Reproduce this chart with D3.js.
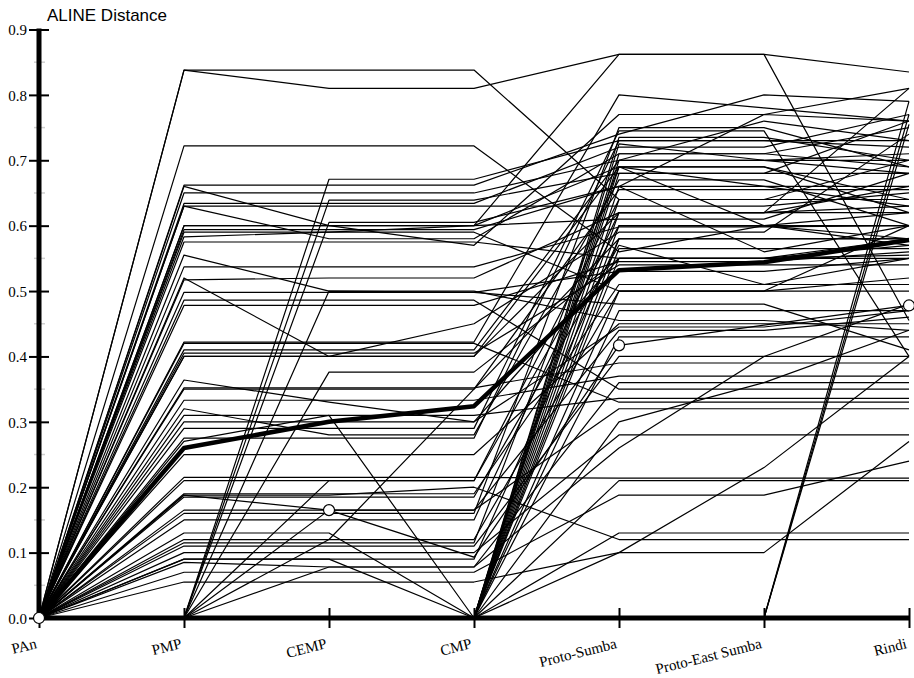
<!DOCTYPE html>
<html>
<head>
<meta charset="utf-8">
<script src="https://cdn.jsdelivr.net/npm/d3@7"></script>
<style>
  body { margin: 0; background: #fff; }
  svg { display: block; }
</style>
</head>
<body>
<div id="chart"></div>
<script>
// Stages along the x axis
const categories = ["PAn", "PMP", "CEMP", "CMP", "Proto-Sumba", "Proto-East Sumba", "Rindi"];
const yTicks = [0, 0.1, 0.2, 0.3, 0.4, 0.5, 0.6, 0.7, 0.8, 0.9];
const yMinorTicks = [0.05, 0.15, 0.25, 0.35, 0.45, 0.55, 0.65, 0.75, 0.85];

// words already changed at PMP
const pmpLines = [
    [0, .838, .838, .838, .64, .64, .70],
    [0, .838, .81, .81, .862, .862, .835],
    [0, .722, .722, .722, .56, .60, .62],
    [0, .662, .662, .662, .74, .80, .79],
    [0, .66, .60, .57, .77, .77, .81],
    [0, .65, .65, .65, .70, .76, .73],
    [0, .634, .634, .634, .72, .72, .77],
    [0, .63, .63, .63, .63, .63, .65],
    [0, .63, .58, .58, .71, .71, .69],
    [0, .60, .60, .60, .69, .69, .62],
    [0, .60, .60, .60, .862, .862, .455],
    [0, .594, .594, .594, .66, .77, .76],
    [0, .59, .59, .59, .50, .50, .52],
    [0, .583, .59, .60, .61, .61, .68],
    [0, .575, .575, .575, .55, .55, .58],
    [0, .555, .50, .50, .455, .455, .44],
    [0, .537, .537, .537, .598, .598, .60],
    [0, .52, .40, .40, .69, .66, .63],
    [0, .517, .52, .52, .62, .62, .81],
    [0, .498, .498, .498, .48, .48, .41],
    [0, .486, .486, .486, .35, .35, .35],
    [0, .478, .478, .478, .545, .545, .56],
    [0, .422, .422, .422, .80, .78, .76],
    [0, .42, .42, .42, .33, .33, .33],
    [0, .41, .41, .41, .70, .70, .70],
    [0, .405, .405, .405, .54, .54, .54],
    [0, .40, .40, .40, .62, .62, .63],
    [0, .40, .40, .45, .59, .59, .74],
    [0, .364, .33, .30, .445, .445, .47],
    [0, .352, .352, .352, .39, .39, .39],
    [0, .35, .35, .35, .655, .655, .655],
    [0, .333, .333, .333, .37, .37, .37],
    [0, .32, .28, .28, .67, .67, .60],
    [0, .31, .31, .31, .336, .336, .336],
    [0, .30, .30, .30, .55, .55, .555],
    [0, .29, .29, .29, .745, .745, .40],
    [0, .275, .275, .275, .73, .73, .73],
    [0, .25, .25, .25, .45, .45, .45],
    [0, .215, .215, .215, .214, .214, .214],
    [0, .21, .21, .21, .60, .60, .60],
    [0, .19, .19, .19, .51, .51, .51],
    [0, .188, .188, .20, .12, .12, .12],
    [0, .185, .185, .185, .57, .51, .55],
    [0, .165, .165, .165, .44, .44, .46],
    [0, .16, .16, .16, .75, .75, .69],
    [0, .15, .15, .15, .62, .62, .66],
    [0, .12, .12, .12, .50, .50, .50],
    [0, .115, .115, .115, .69, .69, .64],
    [0, .11, .11, .11, .40, .40, .40],
    [0, .10, .10, .10, .28, .28, .28],
    [0, .09, .09, .09, .58, .58, .58],
    [0, .085, .078, .078, .36, .36, .36],
    [0, .07, .07, .07, .188, .188, .24],
    [0, .055, .055, .055, .10, .10, .27]
];

// words first changed at CEMP
const cempLines = [
    [0, 0, .671, .671, .73, .73, .72],
    [0, 0, .639, .639, .68, .68, .76],
    [0, 0, .605, .605, .66, .56, .60],
    [0, 0, .50, .498, .53, .53, .55],
    [0, 0, .376, .376, .55, .55, .55],
    [0, 0, .21, .21, .64, .64, .64],
    [0, 0, .165, .165, .32, .32, .32],
    [0, 0, .12, .35, .58, .58, .58],
    [0, 0, .078, .078, .26, .40, .48]
];

// words back at zero for CMP
const cmpLines = [
    [0, 0, 0, 0, .735, .735, .70],
    [0, 0, 0, 0, .725, .70, .68],
    [0, 0, 0, 0, .71, .71, .75],
    [0, 0, 0, 0, .70, .70, .71],
    [0, 0, 0, 0, .69, .60, .57],
    [0, 0, 0, 0, .68, .68, .68],
    [0, 0, 0, 0, .66, .66, .66],
    [0, 0, 0, 0, .64, .64, .64],
    [0, .27, .31, 0, .62, .62, .62],
    [0, 0, 0, 0, .60, .60, .58],
    [0, .13, .13, 0, .58, .58, .58],
    [0, 0, 0, 0, .565, .565, .565],
    [0, 0, 0, 0, .55, .55, .57],
    [0, 0, 0, 0, .50, .50, .60],
    [0, 0, 0, 0, .47, .47, .47],
    [0, 0, 0, 0, .43, .43, .43],
    [0, .09, .09, 0, .30, .36, .44],
    [0, 0, 0, 0, .21, .21, .21],
    [0, 0, 0, 0, .13, .13, .13],
    [0, 0, 0, 0, .10, .23, .40]
];

// words unchanged until Rindi
const rindiLines = [
    [0, 0, 0, 0, 0, 0, .79],
    [0, 0, 0, 0, 0, 0, .77],
    [0, 0, 0, 0, 0, 0, .755]
];

const meanValues = [0, .26, .30, .324, .532, .544, .578];
const markedValues = [0, .188, .165, .093, .417, .448, .478];
const markedAt = ["PAn", "CEMP", "Proto-Sumba", "Rindi"];

const width = 914;
const height = 678;

const svg = d3.select("#chart")
    .append("svg")
    .attr("width", width)
    .attr("height", height);

const x = d3.scalePoint()
    .domain(categories)
    .range([39, 909]);

const y = d3.scaleLinear()
    .domain([0, 0.9])
    .range([618, 29.5]);

// title of the y axis
svg.append("text")
    .attr("x", 47)
    .attr("y", 21)
    .style("font-family", "Liberation Sans, Arial, sans-serif")
    .style("font-size", "17px")
    .text("ALINE Distance");

const line = d3.line()
    .x((d, i) => x(categories[i]))
    .y(d => y(d));

const allLines = pmpLines.concat(cempLines, cmpLines, rindiLines);

svg.append("g")
    .selectAll("path")
    .data(allLines)
    .enter().append("path")
    .attr("d", line)
    .attr("fill", "none")
    .attr("stroke", "#000")
    .attr("stroke-width", 1.2)
    .attr("stroke-linejoin", "round");

svg.append("path")
    .datum(markedValues)
    .attr("d", line)
    .attr("fill", "none")
    .attr("stroke", "#000")
    .attr("stroke-width", 1.2);

// mean line
svg.append("path")
    .datum(meanValues)
    .attr("d", line)
    .attr("fill", "none")
    .attr("stroke", "#000")
    .attr("stroke-width", 4.5)
    .attr("stroke-linejoin", "round");

// minor y ticks
svg.append("g")
    .selectAll("line")
    .data(yMinorTicks)
    .enter().append("line")
    .attr("x1", 34)
    .attr("x2", 45)
    .attr("y1", d => y(d))
    .attr("y2", d => y(d))
    .attr("stroke", "#d0d0d0")
    .attr("stroke-width", 1.5);

// y axis
const yAxis = svg.append("g")
    .attr("transform", "translate(39,0)")
    .call(d3.axisLeft(y).tickValues(yTicks).tickFormat(d3.format(".1f")).tickSize(10).tickPadding(2));

yAxis.select(".domain")
    .attr("d", `M0,${y(0)}V${y(0.9) - 1}`)
    .attr("stroke-width", 5);
yAxis.selectAll(".tick line")
    .attr("x1", -10)
    .attr("x2", 10)
    .attr("stroke-width", 2);
yAxis.selectAll(".tick text")
    .style("font-family", "Liberation Serif, Times New Roman, serif")
    .style("font-size", "15px")
    .attr("dy", "0.35em");

// x axis
const xAxis = svg.append("g")
    .attr("transform", `translate(0,${y(0)})`)
    .call(d3.axisBottom(x).tickSize(10));

xAxis.select(".domain")
    .attr("d", `M${x("PAn")},0H${x("Rindi")}`)
    .attr("stroke-width", 5);
xAxis.selectAll(".tick line")
    .attr("y1", -10)
    .attr("y2", 10)
    .attr("stroke-width", 2);
xAxis.selectAll(".tick text")
    .style("font-family", "Liberation Serif, Times New Roman, serif")
    .style("font-size", "15px")
    .attr("text-anchor", "end")
    .attr("dy", null)
    .attr("y", null)
    .attr("transform", "translate(-2,30) rotate(-14)");

// open circles on the marked word
svg.append("g")
    .selectAll("circle")
    .data(markedAt)
    .enter().append("circle")
    .attr("cx", d => x(d))
    .attr("cy", d => y(markedValues[categories.indexOf(d)]))
    .attr("r", 5.5)
    .attr("fill", "#fff")
    .attr("stroke", "#000")
    .attr("stroke-width", 1.2);
</script>
</body>
</html>
